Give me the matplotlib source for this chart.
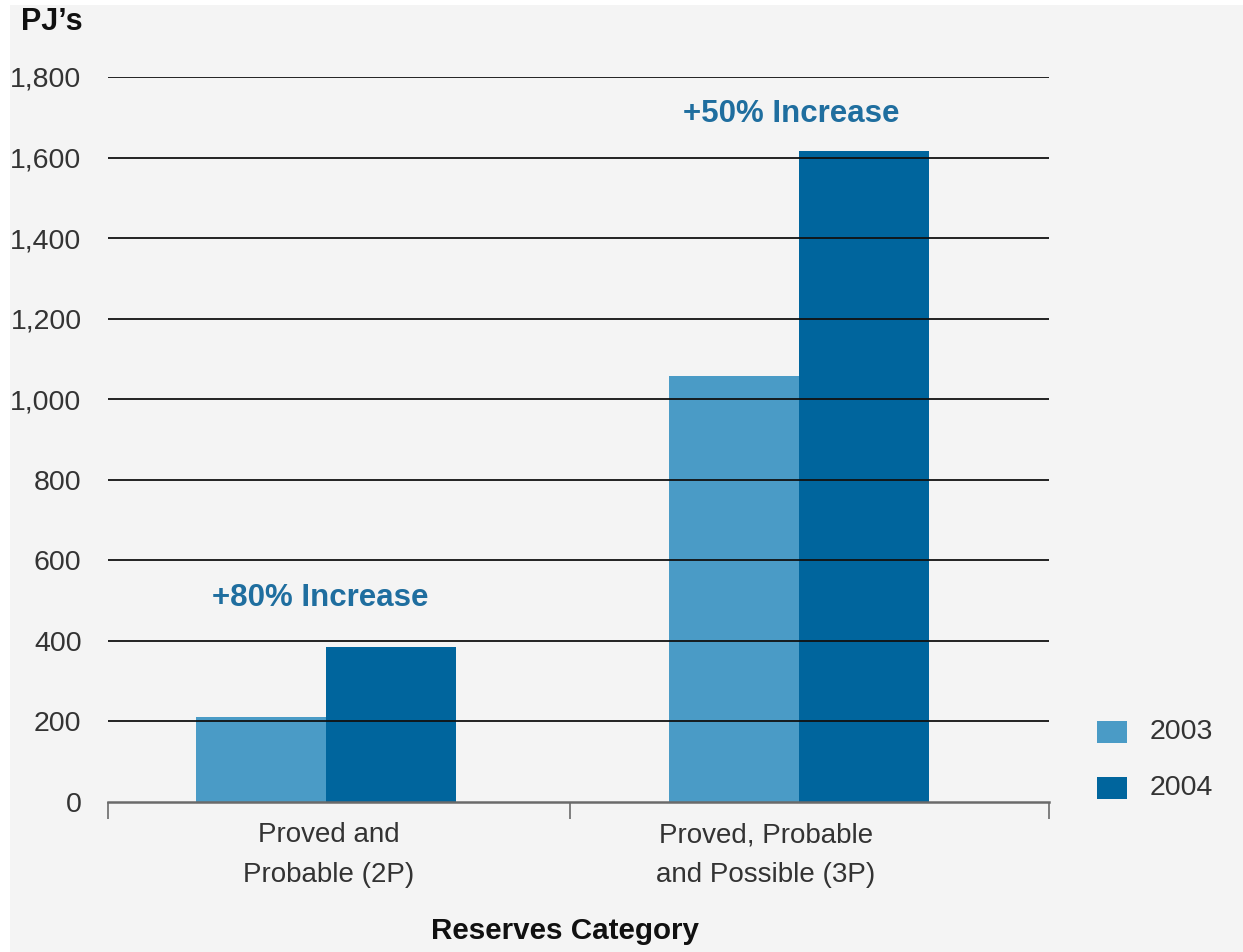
import matplotlib
matplotlib.use("Agg")
import matplotlib.pyplot as plt
from matplotlib.patches import Rectangle

# Reserves data (PJ)
categories = ["Proved and\nProbable (2P)", "Proved, Probable\nand Possible (3P)"]
years = ["2003", "2004"]
reserves_2003 = [211, 1058]
reserves_2004 = [384, 1616]
increase_labels = ["+80% Increase", "+50% Increase"]
y_ticks = [0, 200, 400, 600, 800, 1000, 1200, 1400, 1600, 1800]

W, H = 1243, 952
fig = plt.figure(figsize=(W / 100, H / 100), dpi=100)
fig.patch.set_facecolor("white")
fig.patches.append(Rectangle((10 / W, 0), 1 - 10 / W, 1 - 5 / H,
                             transform=fig.transFigure, facecolor="#f4f4f4",
                             edgecolor="none", zorder=-10))

FONT = "Liberation Sans"
c2003 = "#4a9bc6"
c2004 = "#00659d"
label_blue = "#1f6e9f"
text_grey = "#333333"

ax = fig.add_axes([108 / W, 1 - 802 / H, (1049 - 108) / W, (802 - 77) / H])
ax.set_facecolor("none")

# Group centres and bar width in data units (x axis spans 0..2)
centers = [0.463, 1.469]
bw = 0.277
ax.bar([c - bw / 2 for c in centers], reserves_2003, width=bw, color=c2003, zorder=1)
ax.bar([c + bw / 2 for c in centers], reserves_2004, width=bw, color=c2004, zorder=1)

ax.set_xlim(0, 2)
ax.set_ylim(0, 1800)

# Horizontal rules drawn on top of the bars
for v in y_ticks[1:]:
    ax.axhline(v, color="#111111", lw=1.3, zorder=3)

for s in ["left", "right", "top"]:
    ax.spines[s].set_visible(False)
ax.spines["bottom"].set_color("#6a6a6a")
ax.spines["bottom"].set_linewidth(1.8)
ax.spines["bottom"].set_zorder(4)

ax.set_yticks(y_ticks)
ax.set_yticklabels([f"{v:,}" for v in y_ticks], fontsize=20.5, color=text_grey,
                   family=FONT)
ax.tick_params(axis="y", length=0, pad=19)
ax.set_xticks([0, 0.982, 2])
ax.set_xticklabels([])
ax.tick_params(axis="x", length=12, width=1.2, color="#6a6a6a", direction="out")

# Category labels under each group
cat_x = [(329 - 108) / (1049 - 108), (766 - 108) / (1049 - 108)]
for x, lab in zip(cat_x, categories):
    ax.text(x, -0.028, lab, transform=ax.transAxes, ha="center", va="top",
            fontsize=20, color=text_grey, family=FONT, linespacing=1.7)

# Increase annotations
ann_y = [598, 114]
ann_x = [320, 791]
for x, y, lab in zip(ann_x, ann_y, increase_labels):
    fig.text(x / W, 1 - y / H, lab, ha="center", va="center", fontsize=22.5,
             fontweight="bold", color=label_blue, family=FONT)

fig.text(52 / W, 1 - 22 / H, "PJ\u2019s", ha="center", va="center", fontsize=22,
         fontweight="bold", color="#111111", family=FONT)
fig.text(565 / W, 1 - 931 / H, "Reserves Category", ha="center", va="center",
         fontsize=21.3, fontweight="bold", color="#111111", family=FONT)

# Legend
for y, col, lab in [(732, c2003, years[0]), (788, c2004, years[1])]:
    fig.patches.append(Rectangle((1097 / W, 1 - (y + 11) / H), 30 / W, 22 / H,
                                 transform=fig.transFigure, facecolor=col,
                                 edgecolor="none"))
    fig.text(1150 / W, 1 - y / H, lab, ha="left", va="center", fontsize=20.5,
             color=text_grey, family=FONT)

fig.savefig("out.png", dpi=100, facecolor=fig.get_facecolor())
